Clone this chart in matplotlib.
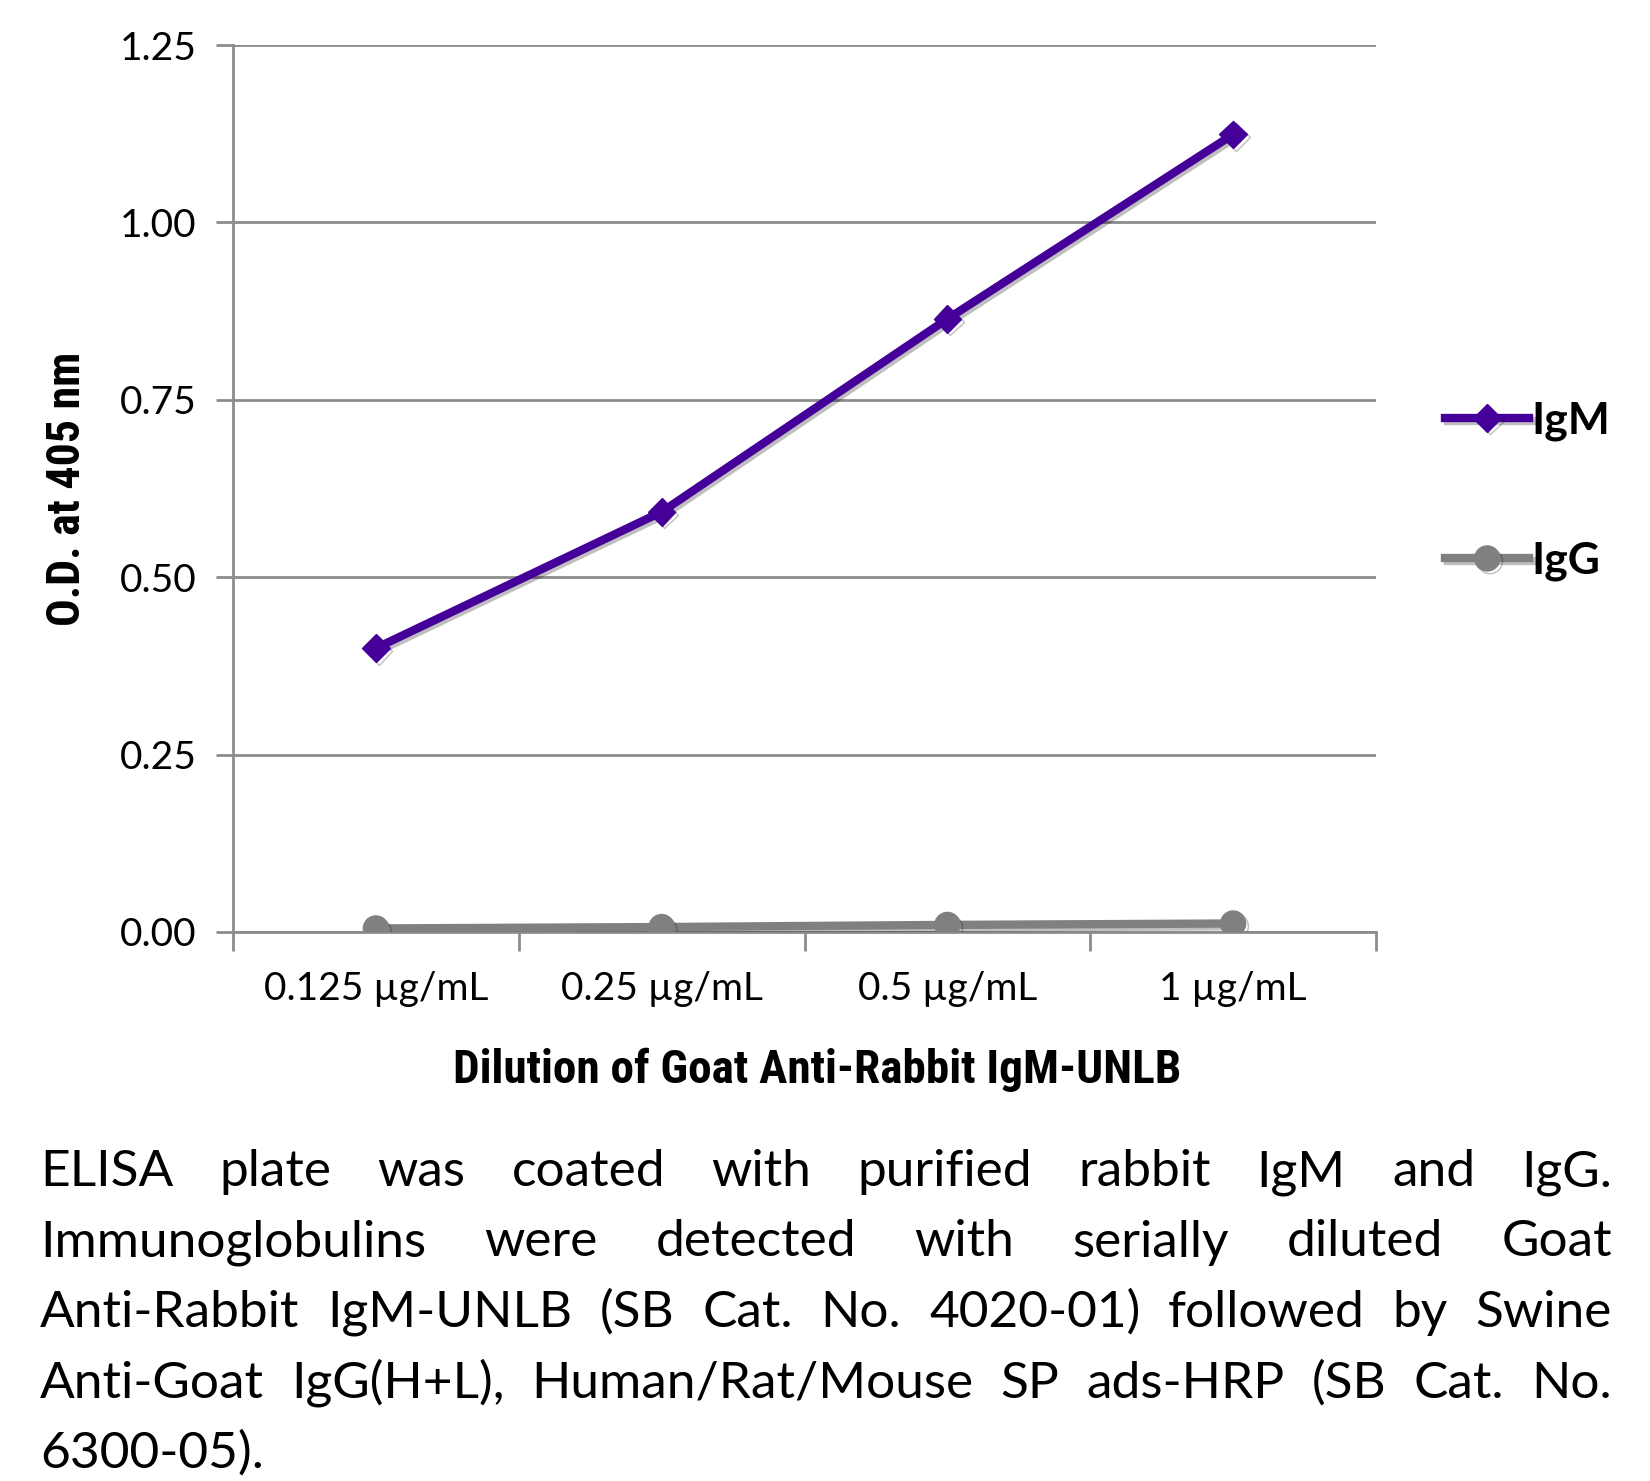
import matplotlib
matplotlib.use("Agg")
import matplotlib.pyplot as plt
import matplotlib.patheffects as pe

# data
categories = ["0.125 µg/mL", "0.25 µg/mL", "0.5 µg/mL", "1 µg/mL"]
igm = [0.40, 0.592, 0.864, 1.124]
igg = [0.005, 0.007, 0.010, 0.012]
yticks = [0.0, 0.25, 0.5, 0.75, 1.0, 1.25]

caption = [
    "ELISA plate was coated with purified rabbit IgM and IgG.",
    "Immunoglobulins were detected with serially diluted Goat",
    "Anti-Rabbit IgM-UNLB (SB Cat. No. 4020-01) followed by Swine",
    "Anti-Goat IgG(H+L), Human/Rat/Mouse SP ads-HRP (SB Cat. No.",
    "6300-05).",
]

W, H = 1650, 1481
plt.rcParams['font.family'] = ['Lato', 'DejaVu Sans']
fig = plt.figure(figsize=(W / 100, H / 100), dpi=100)
ax = fig.add_axes([233 / W, 1 - 932 / H, (1376 - 233) / W, (932 - 45) / H])

grid_c = "#8c8c8c"
x = [i + 0.5 for i in range(len(categories))]
shadow = [pe.SimpleLineShadow(offset=(2, -2), shadow_color="k", alpha=0.25), pe.Normal()]
ax.plot(x, igg, color="#808080", lw=6, marker="o", ms=18, label="IgG",
        path_effects=shadow, zorder=3)
ax.plot(x, igm, color="#45009a", lw=6, marker="D", ms=14, label="IgM",
        path_effects=shadow, zorder=4)

ax.set_xlim(0, len(categories))
ax.set_ylim(0, 1.25)
ax.set_yticks(yticks)
ax.set_yticklabels([f"{v:.2f}" for v in yticks], fontsize=28)
ax.set_xticks(range(len(categories) + 1))
ax.set_xticklabels([])
ax.set_xticks(x, minor=True)
ax.set_xticklabels(categories, minor=True, fontsize=28)
ax.tick_params(axis="x", which="minor", length=0, pad=28)
ax.tick_params(axis="x", which="major", length=14, width=2, color=grid_c, direction="out")
ax.tick_params(axis="y", length=12, width=2, color=grid_c, pad=14)
ax.grid(axis="y", color=grid_c, lw=2)
ax.set_axisbelow(True)
for s in ["top", "right"]:
    ax.spines[s].set_visible(False)
for s in ["left", "bottom"]:
    ax.spines[s].set_color(grid_c)
    ax.spines[s].set_linewidth(2)

narrow = ['Roboto Condensed', 'Lato']
ax.set_ylabel("O.D. at 405 nm", fontsize=33, fontweight="bold", family=narrow, labelpad=22)
fig.text(817 / W, 1 - 1070 / H, "Dilution of Goat Anti-Rabbit IgM-UNLB", fontsize=34,
         fontweight="bold", family=narrow, ha="center", va="center")

h, l = ax.get_legend_handles_labels()
leg = fig.legend(h[::-1], l[::-1], loc="center left", bbox_to_anchor=(1405 / W, 1 - 491 / H),
                 frameon=False, handlelength=1.9, labelspacing=2.25,
                 prop={"weight": "bold", "size": 32}, handletextpad=0.05)

# justified caption
renderer = fig.canvas.get_renderer()
left, right = 40, 1612
base0, step = 1186, 70.5
fs = 37
for i, line in enumerate(caption):
    yb = 1 - (base0 + i * step) / H
    words = line.split()
    if i == len(caption) - 1:
        fig.text(left / W, yb, line, fontsize=fs, va="baseline", ha="left")
        continue
    texts = [fig.text(0, yb, w, fontsize=fs, va="baseline", ha="left") for w in words]
    widths = [t.get_window_extent(renderer).width for t in texts]
    gap = (right - left - sum(widths)) / (len(words) - 1)
    pos = left
    for t, w in zip(texts, widths):
        t.set_x(pos / W)
        pos += w + gap

fig.savefig("out.png", dpi=100)
